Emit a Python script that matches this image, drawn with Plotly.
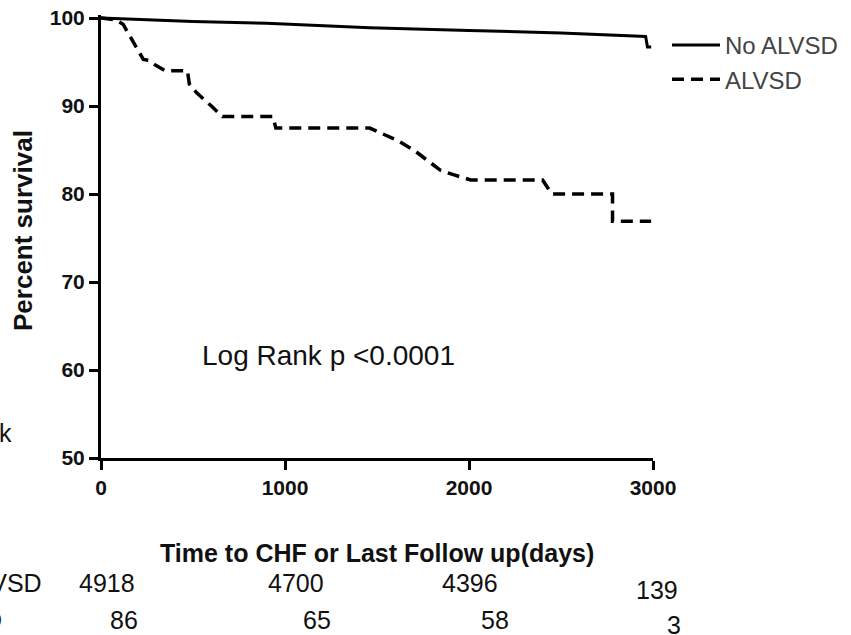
import plotly.graph_objects as go

# Kaplan-Meier style curves
t_no = [0, 250, 500, 900, 1150, 1460, 2000, 2500, 2960, 2970, 2990]
s_no = [100, 99.8, 99.6, 99.4, 99.2, 98.9, 98.6, 98.3, 97.9, 96.7, 96.7]

t_al = [0, 80, 120, 230, 260, 300, 350, 470, 480, 520, 600, 660, 935, 950,
        1460, 1520, 1610, 1700, 1790, 1845, 1915, 2010, 2400, 2450, 2780, 2780, 2990]
s_al = [100, 99.8, 99.3, 95.3, 95.2, 94.6, 94.0, 94.0, 92.5, 91.5, 90.0, 88.8, 88.8, 87.5,
        87.5, 86.9, 86.1, 85.0, 83.5, 82.7, 82.2, 81.6, 81.6, 80.0, 80.0, 76.9, 76.9]

series_names = ["No ALVSD", "ALVSD"]
risk_no = ["4918", "4700", "4396", "139"]
risk_al = ["86", "65", "58", "3"]

x_ticks = [0, 1000, 2000, 3000]
y_ticks = [50, 60, 70, 80, 90, 100]

FONT = "Arial, Liberation Sans, sans-serif"

# plot area geometry (pixels)
L, T, W, H = 101, 15, 552, 443
def px(xp):
    return (xp - L) / W
def py(yp):
    return (T + H - yp) / H

risk_px_no = [107, 296, 470, 657]
risk_py_no = [583, 583, 583, 590]
risk_px_al = [124, 317, 495, 674]
risk_py_al = [620, 620, 620, 625]

fig = go.Figure()
fig.add_trace(go.Scatter(x=t_no, y=s_no, mode="lines", name=series_names[0],
                         line=dict(color="black", width=3)))
fig.add_trace(go.Scatter(x=t_al, y=s_al, mode="lines", name=series_names[1],
                         line=dict(color="black", width=3.5, dash="12px,7px")))

ann = []
ann.append(dict(x=px(328), y=py(355), xref="paper", yref="paper", text="Log Rank p <0.0001",
                xanchor="center", yanchor="middle",
                showarrow=False, font=dict(family=FONT, size=28, color="#111")))
ann.append(dict(x=px(377), y=py(553), xref="paper", yref="paper",
                xanchor="center", yanchor="middle",
                text="<b>Time to CHF or Last Follow up(days)</b>", showarrow=False,
                font=dict(family=FONT, size=25, color="#111")))
ann.append(dict(x=px(23), y=py(231), xref="paper", yref="paper", textangle=-90,
                xanchor="center", yanchor="middle",
                text="<b>Percent survival</b>", showarrow=False,
                font=dict(family=FONT, size=26, color="#111")))
# number at risk table
ann.append(dict(x=px(14), y=py(433), xref="paper", yref="paper", xanchor="right", yanchor="middle",
                text="Number at risk", showarrow=False,
                font=dict(family=FONT, size=25, color="#111")))
ann.append(dict(x=px(44), y=py(583), xref="paper", yref="paper", xanchor="right", yanchor="middle",
                text="No ALVSD", showarrow=False,
                font=dict(family=FONT, size=25, color="#111")))
ann.append(dict(x=px(4), y=py(620), xref="paper", yref="paper", xanchor="right", yanchor="middle",
                text="ALVSD", showarrow=False,
                font=dict(family=FONT, size=25, color="#111")))
for xp, yp, lab in zip(risk_px_no, risk_py_no, risk_no):
    ann.append(dict(x=px(xp), y=py(yp), xref="paper", yref="paper", text=lab,
                    xanchor="center", yanchor="middle",
                    showarrow=False, font=dict(family=FONT, size=25, color="#111")))
for xp, yp, lab in zip(risk_px_al, risk_py_al, risk_al):
    ann.append(dict(x=px(xp), y=py(yp), xref="paper", yref="paper", text=lab,
                    xanchor="center", yanchor="middle",
                    showarrow=False, font=dict(family=FONT, size=25, color="#111")))

fig.update_layout(
    width=851, height=635,
    margin=dict(l=L, r=851 - L - W, t=T, b=635 - T - H, autoexpand=False),
    paper_bgcolor="white", plot_bgcolor="white",
    showlegend=True,
    legend=dict(x=px(667), y=py(23), xanchor="left", yanchor="top",
                font=dict(family=FONT, size=24, color="#444"),
                bgcolor="rgba(0,0,0,0)", tracegroupgap=0, itemwidth=48),
    annotations=ann,
    font=dict(family=FONT, color="#111"),
)
fig.update_xaxes(range=[0, 3000], tickvals=x_ticks, ticktext=[f"<b>{v}</b>" for v in x_ticks],
                 showgrid=False, zeroline=False, showline=True, linecolor="black", linewidth=3,
                 ticks="outside", ticklen=9, tickwidth=3, tickcolor="black",
                 tickfont=dict(family=FONT, size=21, color="#111"))
fig.update_yaxes(range=[50, 100.35], tickvals=y_ticks, ticktext=[f"<b>{v}</b>" for v in y_ticks],
                 showgrid=False, zeroline=False, showline=True, linecolor="black", linewidth=3,
                 ticks="outside", ticklen=9, tickwidth=3, tickcolor="black",
                 tickfont=dict(family=FONT, size=21, color="#111"))

fig.write_html("out.html", config={"displayModeBar": False},
               post_script="document.body.style.margin='0px';")
